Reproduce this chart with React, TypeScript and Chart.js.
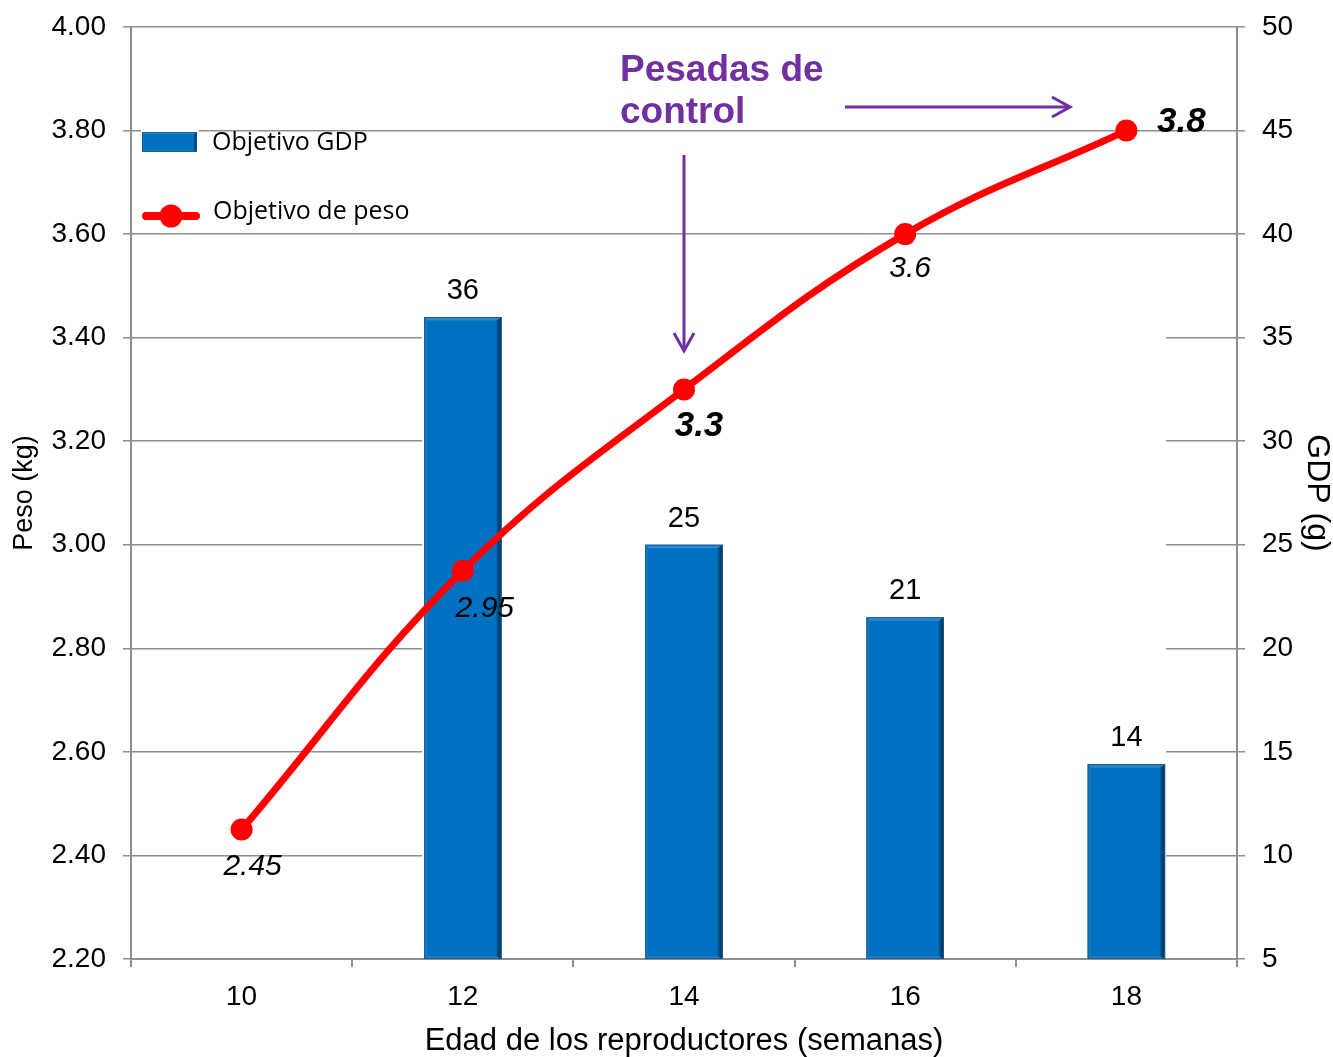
import React, { useEffect, useRef } from 'react';
import { Chart, registerables } from 'chart.js';

Chart.register(...registerables);

const FONT = '"Liberation Sans", Arial, Helvetica, sans-serif';

const ages = ['10', '12', '14', '16', '18'];
const gdpValues: (number | null)[] = [null, 36, 25, 21.5, 14.4];
const gdpLabels = ['', '36', '25', '21', '14'];
const pesoValues = [2.45, 2.95, 3.3, 3.6, 3.8];
const pesoLabels = ['2.45', '2.95', '3.3', '3.6', '3.8'];
const pesoEmphasis = [false, false, true, false, true];

const pesoMin = 2.2;
const pesoMax = 4.0;
const pesoStep = 0.2;
const gdpMin = 5;
const gdpMax = 50;
const gdpStep = 5;

const legendGdp = 'Objetivo GDP';
const legendPeso = 'Objetivo de peso';
const annotationLines = ['Pesadas de', 'control'];
const xTitle = 'Edad de los reproductores (semanas)';
const yLeftTitle = 'Peso (kg)';
const yRightTitle = 'GDP (g)';

// label placement offsets (pixels, relative to each point)
const pesoLabelOffsets: [number, number][] = [[11, 37], [22, 38], [15, 37], [5, 35], [55, -8]];

const BLUE = '#0070C0';
const RED = '#FF0000';
const PURPLE = '#7030A0';
const GRID = '#8e8e8e';

function drawBevel(ctx: CanvasRenderingContext2D, l: number, t: number, r: number, b: number, s: number) {
  ctx.save();
  ctx.fillStyle = '#2f87cc';
  ctx.beginPath();
  ctx.moveTo(l, t); ctx.lineTo(r, t); ctx.lineTo(r - s, t + s * 0.7); ctx.lineTo(l + s * 0.6, t + s * 0.7);
  ctx.closePath(); ctx.fill();
  ctx.fillStyle = '#1679c3';
  ctx.beginPath();
  ctx.moveTo(l, t); ctx.lineTo(l + s * 0.6, t + s * 0.7); ctx.lineTo(l + s * 0.6, b - s * 0.5); ctx.lineTo(l, b);
  ctx.closePath(); ctx.fill();
  const g = ctx.createLinearGradient(r - s, 0, r, 0);
  g.addColorStop(0, '#045a9a');
  g.addColorStop(1, '#062a4c');
  ctx.fillStyle = g;
  ctx.beginPath();
  ctx.moveTo(r, t); ctx.lineTo(r, b); ctx.lineTo(r - s, b - s * 0.5); ctx.lineTo(r - s, t + s * 0.7);
  ctx.closePath(); ctx.fill();
  ctx.fillStyle = '#2a82c6';
  ctx.beginPath();
  ctx.moveTo(l, b); ctx.lineTo(r, b); ctx.lineTo(r - s, b - s * 0.5); ctx.lineTo(l + s * 0.6, b - s * 0.5);
  ctx.closePath(); ctx.fill();
  ctx.strokeStyle = '#175a92';
  ctx.lineWidth = 1;
  ctx.strokeRect(l + 0.5, t + 0.5, r - l - 1, b - t - 1);
  ctx.restore();
}

const maskPlugin = {
  id: 'gridMask',
  beforeDatasetsDraw(chart: any) {
    const meta = chart.getDatasetMeta(0);
    const idx = gdpValues.map((v, i) => (v == null ? -1 : i)).filter((i) => i >= 0);
    if (!idx.length) return;
    const first = meta.data[idx[0]];
    const last = meta.data[idx[idx.length - 1]];
    const x1 = first.x - first.width / 2 - 2;
    const x2 = last.x + last.width / 2 + 1;
    const y1 = chart.scales.yPeso.getPixelForValue(3.5);
    const y2 = chart.chartArea.bottom - 1.5;
    const ctx = chart.ctx;
    ctx.save();
    ctx.fillStyle = '#ffffff';
    ctx.fillRect(x1, y1, x2 - x1, y2 - y1);
    ctx.restore();
  },
};

const bevelPlugin = {
  id: 'barBevel',
  afterDatasetDraw(chart: any, args: any) {
    if (args.index !== 0) return;
    const ctx = chart.ctx;
    const bottom = chart.chartArea.bottom;
    args.meta.data.forEach((el: any, i: number) => {
      if (gdpValues[i] == null) return;
      const { x, y, base, width } = el.getProps(['x', 'y', 'base', 'width'], true);
      drawBevel(ctx, x - width / 2, y, x + width / 2, Math.min(base, bottom), 5);
    });
  },
};

const labelsPlugin = {
  id: 'valueLabels',
  afterDatasetsDraw(chart: any) {
    const ctx = chart.ctx;
    ctx.save();
    ctx.fillStyle = '#000';
    ctx.textAlign = 'center';
    ctx.textBaseline = 'middle';
    const barMeta = chart.getDatasetMeta(0);
    barMeta.data.forEach((el: any, i: number) => {
      if (gdpValues[i] == null) return;
      ctx.font = `29px ${FONT}`;
      ctx.fillText(gdpLabels[i], el.x, el.y - 26);
    });
    const lineMeta = chart.getDatasetMeta(1);
    lineMeta.data.forEach((el: any, i: number) => {
      const [dx, dy] = pesoLabelOffsets[i];
      ctx.font = pesoEmphasis[i] ? `italic bold 35px ${FONT}` : `italic 30px ${FONT}`;
      ctx.fillText(pesoLabels[i], el.x + dx, el.y + dy);
    });
    ctx.restore();
  },
};

const overlayPlugin = {
  id: 'overlay',
  afterDraw(chart: any) {
    const ctx = chart.ctx;
    ctx.save();
    // legend
    ctx.fillStyle = '#ffffff';
    ctx.fillRect(141, 129, 58, 3);
    ctx.fillStyle = BLUE;
    ctx.fillRect(142, 132, 55, 20);
    drawBevel(ctx, 142, 132, 197, 152, 3);
    ctx.strokeStyle = RED;
    ctx.lineWidth = 8;
    ctx.lineCap = 'round';
    ctx.beginPath();
    ctx.moveTo(146, 216);
    ctx.lineTo(196, 216);
    ctx.stroke();
    ctx.fillStyle = RED;
    ctx.beginPath();
    ctx.arc(171, 216, 11.5, 0, Math.PI * 2);
    ctx.fill();
    ctx.fillStyle = '#000';
    ctx.font = `25px "Open Sans", "Noto Sans", sans-serif`;
    ctx.textAlign = 'left';
    ctx.textBaseline = 'alphabetic';
    ctx.fillText(legendGdp, 212, 150);
    ctx.fillText(legendPeso, 213, 219);

    // annotation text
    ctx.fillStyle = PURPLE;
    ctx.font = `bold 37px ${FONT}`;
    ctx.fillText(annotationLines[0], 620, 81);
    ctx.fillText(annotationLines[1], 620, 123);

    // arrows
    ctx.strokeStyle = PURPLE;
    ctx.lineWidth = 3;
    ctx.lineCap = 'butt';
    ctx.lineJoin = 'miter';
    ctx.beginPath();
    ctx.moveTo(845, 107);
    ctx.lineTo(1070, 107);
    ctx.stroke();
    ctx.beginPath();
    ctx.moveTo(1052, 97);
    ctx.lineTo(1070, 107);
    ctx.lineTo(1052, 117);
    ctx.stroke();

    ctx.beginPath();
    ctx.moveTo(684, 155);
    ctx.lineTo(684, 351);
    ctx.stroke();
    ctx.beginPath();
    ctx.moveTo(674, 333);
    ctx.lineTo(684, 351);
    ctx.lineTo(694, 333);
    ctx.stroke();
    ctx.restore();
  },
};

const fitVertical = (w: number) => (s: any) => {
  s.width = w;
  s.paddingTop = 0;
  s.paddingBottom = 0;
};

export default function App() {
  const ref = useRef<HTMLCanvasElement | null>(null);

  useEffect(() => {
    if (!ref.current) return;
    Chart.defaults.font.family = FONT;
    const chart = new Chart(ref.current, {
      type: 'bar',
      data: {
        labels: ages,
        datasets: [
          {
            type: 'bar',
            label: legendGdp,
            data: gdpValues as any,
            yAxisID: 'yGdp',
            backgroundColor: BLUE,
            borderWidth: 0,
            barPercentage: 0.35,
            categoryPercentage: 1,
            order: 1,
          },
          {
            type: 'line',
            label: legendPeso,
            data: pesoValues,
            yAxisID: 'yPeso',
            borderColor: RED,
            backgroundColor: RED,
            borderWidth: 7,
            tension: 0.4,
            pointRadius: 11,
            pointBorderWidth: 0,
            pointBackgroundColor: RED,
            order: 0,
          } as any,
        ],
      },
      options: {
        animation: false,
        responsive: true,
        maintainAspectRatio: false,
        layout: { padding: { top: 27, left: 0, right: 0, bottom: 0 } },
        plugins: { legend: { display: false }, tooltip: { enabled: false } },
        scales: {
          x: {
            grid: { drawOnChartArea: false, drawTicks: true, tickLength: 8, color: GRID, lineWidth: 2, offset: true },
            border: { display: true, color: GRID, width: 2 },
            ticks: { color: '#000', font: { size: 28 }, padding: 13 },
            title: {
              display: true,
              text: xTitle,
              color: '#000',
              font: { size: 31, lineHeight: 1 },
              padding: { top: 0, bottom: 0 },
            },
            afterFit: (s: any) => { s.height = 98; },
          },
          yPeso: {
            type: 'linear',
            position: 'left',
            min: pesoMin,
            max: pesoMax,
            ticks: {
              stepSize: pesoStep,
              color: '#000',
              font: { size: 28 },
              padding: 17,
              callback: (v: any) => Number(v).toFixed(2),
            },
            grid: { color: GRID, lineWidth: 1.5, tickLength: 8, drawTicks: true },
            border: { display: true, color: GRID, width: 2 },
            title: {
              display: true,
              text: yLeftTitle,
              color: '#000',
              font: { size: 27, lineHeight: 1 },
              padding: { top: 11, bottom: 0 },
            },
            afterFit: fitVertical(131),
          },
          yGdp: {
            type: 'linear',
            position: 'right',
            min: gdpMin,
            max: gdpMax,
            ticks: { stepSize: gdpStep, color: '#000', font: { size: 28 }, padding: 17 },
            grid: { drawOnChartArea: false, color: GRID, lineWidth: 1.5, tickLength: 8, drawTicks: true },
            border: { display: true, color: GRID, width: 2 },
            title: {
              display: true,
              text: yRightTitle,
              color: '#000',
              font: { size: 32, lineHeight: 1 },
              padding: { top: 0, bottom: 0 },
            },
            afterFit: fitVertical(96),
          },
        },
      } as any,
      plugins: [maskPlugin, bevelPlugin, labelsPlugin, overlayPlugin],
    });
    return () => chart.destroy();
  }, []);

  return (
    <div style={{ position: 'fixed', left: 0, top: 0, width: 1333, height: 1057, background: '#fff' }}>
      <canvas ref={ref} />
    </div>
  );
}
